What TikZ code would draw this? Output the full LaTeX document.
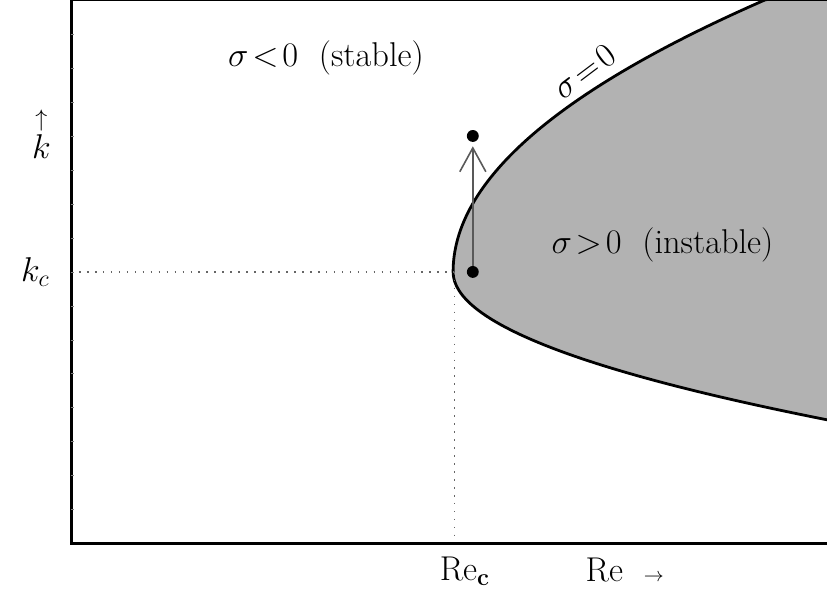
\documentclass[tikz,border=0pt]{standalone}
\usepackage{amsmath}
\usetikzlibrary{arrows.meta}

\begin{document}
\begin{tikzpicture}[
        x=0.6cm, y=0.6cm,
        frame/.style={line width=1.5pt, line cap=rect},
        neutral/.style={line width=1.4pt, fill=black!30},
        guide/.style={dash pattern=on 0.8pt off 3.2pt, line width=0.8pt, color=black!60},
        dot/.style={circle, fill=black, inner sep=0pt, minimum size=0.21cm},
        label/.style={font=\LARGE},
        arrow/.style={-{Straight Barb[length=4.2mm, width=4.6mm]}, line width=0.8pt, color=black!65}
    ]
        \useasboundingbox (-2.09,-1.38) rectangle (22.24,16);

        % Unstable region bounded by the neutral curve
        \begin{scope}
            \clip (0,0) rectangle (22.24,16);
            \draw[neutral] (20.41,16) .. controls (14.30,13.33) and (11.24,10.67) .. (11.24,8)
                .. controls (11.24,6.55) and (14.91,5.10) .. (22.24,3.65)
                -- (22.6,3.6) -- (22.6,16.4) -- cycle;
        \end{scope}

        % Critical point
        \coordinate (crit) at (11.28,8);
        \coordinate (kaxis) at (0,8);
        \coordinate (reaxis) at (11.28,0);
        \draw[guide] (kaxis) -- (crit);
        \draw[guide] (crit) -- (reaxis);

        % Frame and ticks
        \draw[frame] (22.3,16) -- (0,16) -- (0,0) -- (22.3,0);
        \foreach \t in {1,...,15}
            \draw[color=black!50, line width=0.4pt] (0,\t) -- (0.08,\t);

        % Perturbation
        \node[dot] (kbot) at (11.82,8) {};
        \node[dot] (ktop) at (11.82,12) {};
        \draw[arrow, shorten >=2pt] (kbot) -- (ktop);

        % Labels
        \node[label] (stable) at (7.5,14.29) {$\sigma\!<\!0$~~(stable)};
        \node[label] (unstable) at (17.4,8.79) {$\sigma\!>\!0$~~(instable)};
        \node[label, rotate=37] (neutral) at (15.1,13.9) {$\sigma\!=\!0$};
        \node[label] (k) at (-0.87,12.1) {$\overset{\uparrow}{k}$};
        \node[label] (kc) at (-1.05,8.0) {$k_c$};
        \node[label] (rec) at (11.59,-0.8) {Re$_\mathbf{c}$};
        \node[label] (re) at (16.29,-0.76) {Re~~{\normalsize$\rightarrow$}};
    \end{tikzpicture}
\end{document}
